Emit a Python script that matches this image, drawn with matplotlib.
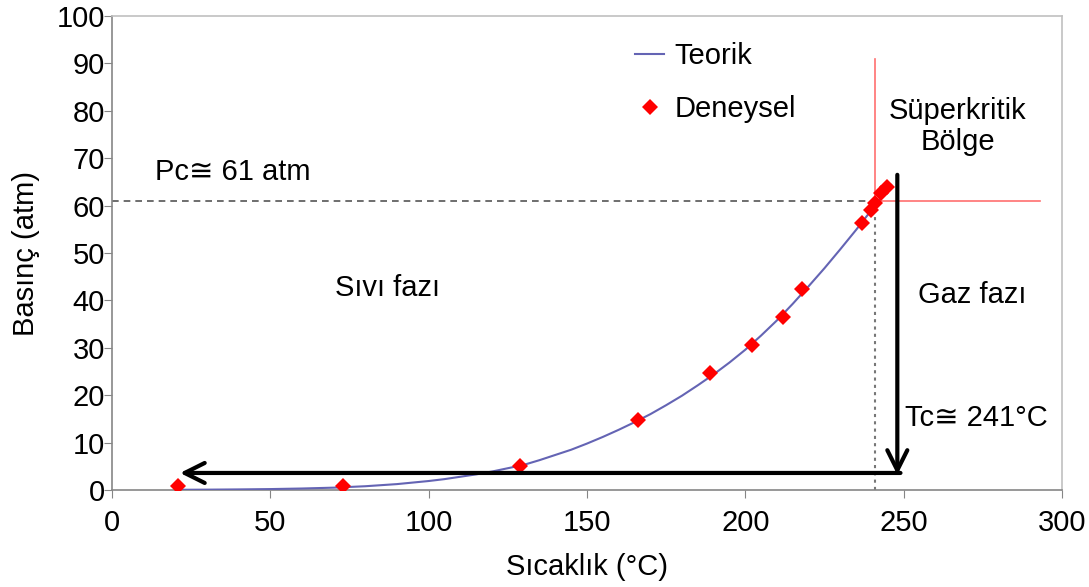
import matplotlib.pyplot as plt
import numpy as np

plt.rcParams['font.family'] = ['Liberation Sans', 'DejaVu Sans']

# theoretical vapour-pressure curve
teorik_T = [21, 30, 40, 50, 60, 70, 80, 90, 100, 105, 110, 115, 120, 125, 130, 135, 140, 145,
            150, 155, 160, 165, 170, 175, 180, 185, 190, 195, 200, 205, 210, 215, 220, 225,
            230, 235, 240, 243, 246]
teorik_P = [0.05, 0.08, 0.13, 0.2, 0.32, 0.5, 0.8, 1.25, 1.9, 2.3, 2.8, 3.3, 3.9, 4.6, 5.3, 6.3, 7.4, 8.5,
            9.8, 11.2, 12.7, 14.3, 16.0, 17.9, 19.9, 22.1, 24.4, 26.9, 29.6, 32.6, 35.8, 39.3, 43.0, 46.8,
            50.8, 54.9, 59.2, 61.8, 64.4]

# measured points
deney_T = [21, 73, 129, 166, 189, 202, 212, 218, 237, 239.6, 241, 243, 244.6]
deney_P = [0.8, 0.8, 5.1, 14.8, 24.7, 30.6, 36.6, 42.5, 56.3, 59.1, 60.5, 62.6, 64.0]

Tc = 241
Pc = 61

fig = plt.figure(figsize=(10.89, 5.87), dpi=100)
ax = fig.add_axes([0.1028, 0.1652, 0.8724, 0.8075])

ax.plot(teorik_T, teorik_P, color='#6464b4', lw=1.5, label='Teorik', zorder=3)
ax.plot(deney_T, deney_P, 'D', color='#ff0000', ms=8.5, mew=0, label='Deneysel', zorder=4)

# critical point guides
ax.plot([0, Tc], [Pc, Pc], color='#555555', lw=1.2, ls=(0, (4, 3)), zorder=2)
ax.plot([Tc, Tc], [0, Pc], color='#777777', lw=1.5, ls=(0, (1.5, 2)), zorder=2)
ax.plot([Tc, Tc], [Pc, 91], color='#ff7070', lw=1.2, zorder=2)
ax.plot([Tc, 293], [Pc, Pc], color='#ff7070', lw=1.2, zorder=2)

# L-shaped arrows
arr = dict(arrowstyle='->', lw=3, color='black', mutation_scale=36, shrinkA=0, shrinkB=0)
ax.annotate('', xy=(248, 3.2), xytext=(248, 66.5), arrowprops=arr, zorder=5)
ax.annotate('', xy=(21.5, 3.6), xytext=(249, 3.6), arrowprops=arr, zorder=5)

fs = 21
ax.text(13.6, 67, 'Pc\u2245 61 atm', fontsize=fs, va='center', ha='left')
ax.text(267, 76.7, 'Süperkritik\nBölge', fontsize=fs, va='center', ha='center', linespacing=1.1)
ax.text(87, 42.6, 'Sıvı fazı', fontsize=fs, va='center', ha='center')
ax.text(271.5, 41.1, 'Gaz fazı', fontsize=fs, va='center', ha='center')
ax.text(250.4, 15.2, 'Tc\u2245 241°C', fontsize=fs, va='center', ha='left')

ax.set_xlim(0, 300)
ax.set_ylim(0, 100)
ax.set_xticks(np.arange(0, 301, 50))
ax.set_yticks(np.arange(0, 101, 10))
ax.tick_params(direction='out', length=6, color='#868686', labelsize=fs)
ax.tick_params(axis='x', pad=8)
ax.tick_params(axis='y', pad=-1)
ax.set_xlabel('Sıcaklık (°C)', fontsize=fs, labelpad=11)
ax.set_ylabel('Basınç (atm)', fontsize=fs, labelpad=12)

for s in ['left', 'bottom']:
    ax.spines[s].set_color('#868686')
    ax.spines[s].set_linewidth(1.2)
for s in ['top', 'right']:
    ax.spines[s].set_color('#c0c0c0')
    ax.spines[s].set_linewidth(1.2)

ax.legend(loc='upper left', bbox_to_anchor=(0.523, 1.0), frameon=False, fontsize=fs,
          handlelength=1.0, labelspacing=0.85, handletextpad=0.35)

fig.savefig('out.png', dpi=100)
